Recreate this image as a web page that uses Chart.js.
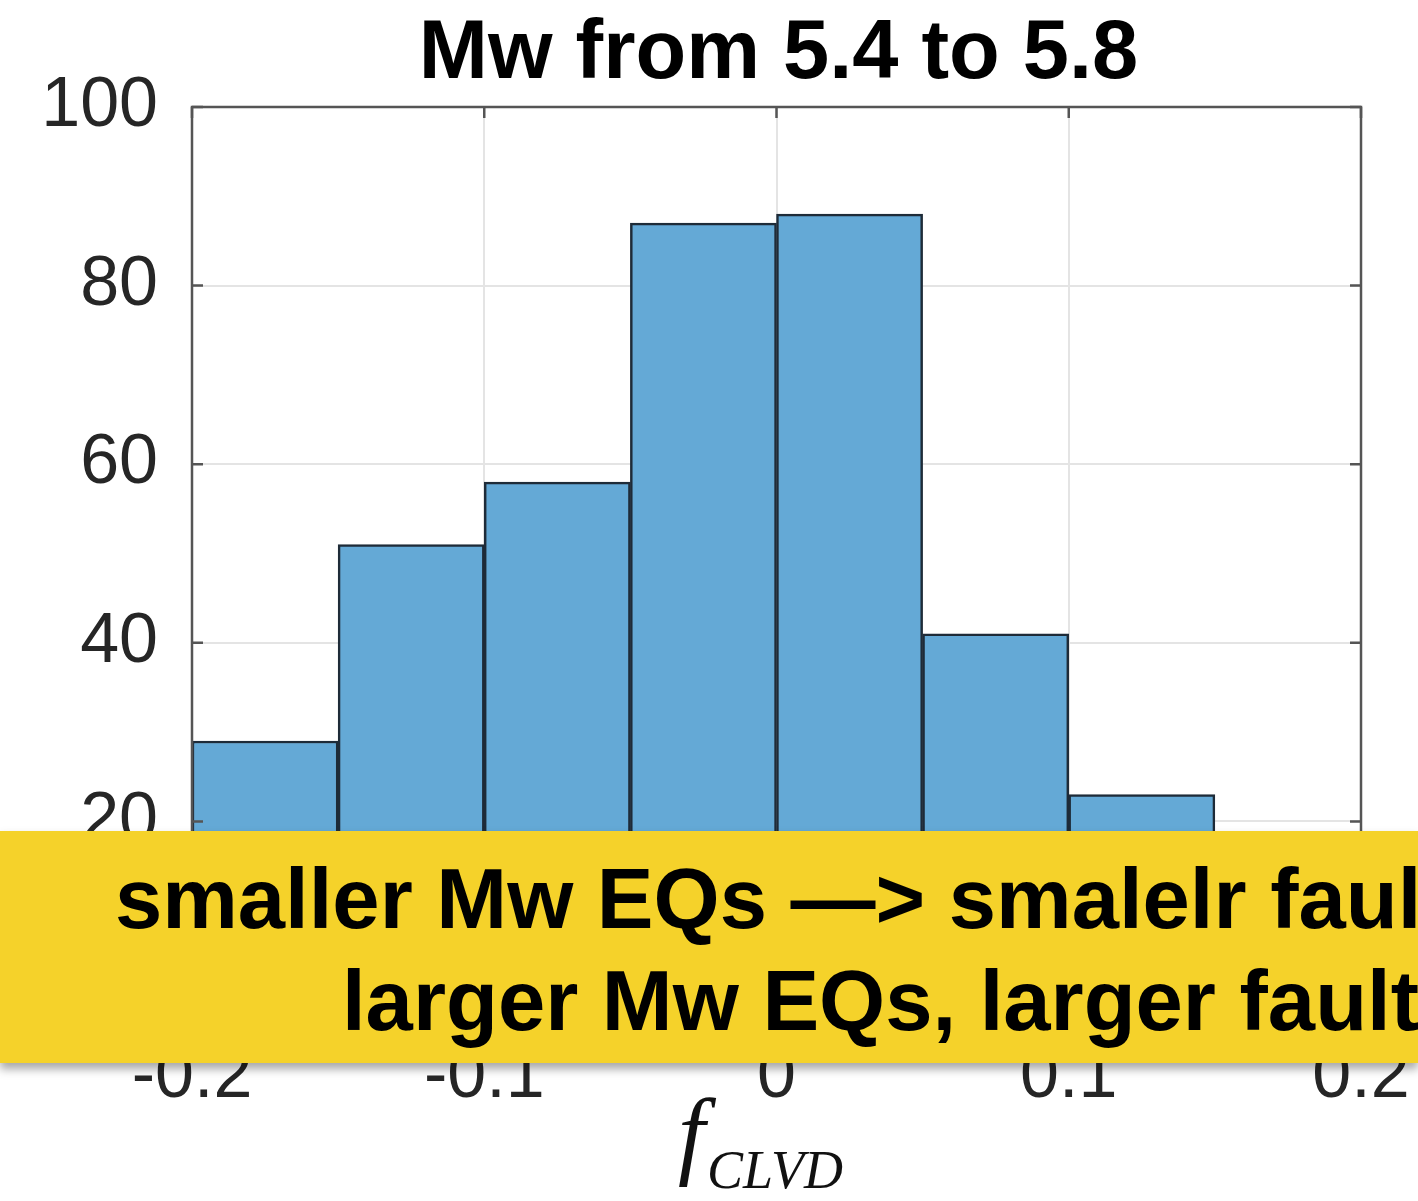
<!DOCTYPE html>
<html>
<head>
<meta charset="utf-8">
<script src="https://cdn.jsdelivr.net/npm/chart.js@4"></script>
<style>
  html, body { margin: 0; padding: 0; background: #fff; overflow: hidden; }
  #wrap { position: relative; width: 1418px; height: 1201px; overflow: hidden; }
  #chart { position: absolute; left: 0; top: 0; }
  #banner {
    position: absolute; left: 0; top: 831px; width: 1418px; height: 232px;
    background: rgb(245, 210, 42);
    box-shadow: 0 6px 9px rgba(0, 0, 0, 0.35);
    overflow: hidden;
  }
  .line {
    position: absolute; white-space: nowrap;
    font-family: "Liberation Sans", Arial, sans-serif; font-weight: bold;
    font-size: 85px; line-height: 85px; color: #000;
  }
</style>
</head>
<body>
<div id="wrap">
  <canvas id="chart" width="1418" height="1201"></canvas>
  <div id="banner">
    <div class="line" style="left:115px; top:25px;">smaller Mw EQs —&gt; smalelr faul</div>
    <div class="line" style="left:342px; top:127px;">larger Mw EQs, larger fault</div>
  </div>
</div>
<script>
// Histogram of f_CLVD, bins of width 0.05 between -0.2 and 0.2
const binCenters = [-0.175, -0.125, -0.075, -0.025, 0.025, 0.075, 0.125, 0.175];
const counts = [29, 51, 58, 87, 88, 41, 23, 7];
const xTicks = [-0.2, -0.1, 0, 0.1, 0.2];
const yTicks = [0, 20, 40, 60, 80, 100];
const titleText = 'Mw from 5.4 to 5.8';

const AXIS_COLOR = '#555555';
const TEXT_COLOR = '#262626';

// Axes box with inward tick marks, the title and the italic x-axis label
const boxPlugin = {
  id: 'boxAndLabel',
  afterDatasetsDraw(chart) {
    const { ctx, chartArea: a, scales } = chart;
    ctx.save();
    ctx.strokeStyle = AXIS_COLOR;
    ctx.lineWidth = 2.5;
    ctx.strokeRect(a.left, a.top, a.right - a.left, a.bottom - a.top);
    const tl = 11;
    ctx.beginPath();
    xTicks.forEach(v => {
      const px = scales.x.getPixelForValue(v);
      ctx.moveTo(px, a.bottom); ctx.lineTo(px, a.bottom - tl);
      ctx.moveTo(px, a.top); ctx.lineTo(px, a.top + tl);
    });
    yTicks.forEach(v => {
      const py = scales.y.getPixelForValue(v);
      ctx.moveTo(a.left, py); ctx.lineTo(a.left + tl, py);
      ctx.moveTo(a.right, py); ctx.lineTo(a.right - tl, py);
    });
    ctx.stroke();

    // title
    ctx.fillStyle = '#000';
    ctx.textAlign = 'center';
    ctx.textBaseline = 'alphabetic';
    ctx.font = 'bold 83px "Liberation Sans", Arial, sans-serif';
    ctx.fillText(titleText, (a.left + a.right) / 2 + 2, 78);

    // x-axis label: f with subscript CLVD
    ctx.fillStyle = '#111';
    ctx.textAlign = 'left';
    ctx.font = 'italic 97px "Liberation Serif", "Times New Roman", serif';
    ctx.fillText('f', 678, 1166);
    const fw = ctx.measureText('f').width;
    ctx.font = 'italic 54px "Liberation Serif", "Times New Roman", serif';
    ctx.fillText('CLVD', 678 + fw + 2, 1188);
    ctx.restore();
  }
};

new Chart(document.getElementById('chart'), {
  type: 'bar',
  data: {
    datasets: [{
      data: binCenters.map((c, i) => ({ x: c, y: counts[i] })),
      backgroundColor: 'rgb(100, 169, 214)',
      borderColor: '#1e2b38',
      borderWidth: 2.5,
      borderSkipped: 'start',
      barPercentage: 1,
      categoryPercentage: 1
    }]
  },
  plugins: [boxPlugin],
  options: {
    responsive: false,
    maintainAspectRatio: false,
    animation: false,
    devicePixelRatio: 1,
    layout: { padding: { left: 0, right: 57, top: 107, bottom: 0 } },
    plugins: {
      legend: { display: false },
      tooltip: { enabled: false },
      title: { display: false }
    },
    scales: {
      x: {
        type: 'linear',
        min: -0.2,
        max: 0.2,
        offset: false,
        afterBuildTicks(scale) { scale.ticks = xTicks.map(v => ({ value: v })); },
        afterFit(scale) {
          scale.height = 201;
          scale.paddingLeft = 0;
          scale.paddingRight = 0;
        },
        grid: { offset: false, color: '#e4e4e4', lineWidth: 2, drawTicks: false },
        border: { display: false },
        ticks: {
          padding: 36,
          color: TEXT_COLOR,
          font: { family: '"Liberation Sans", Arial, sans-serif', size: 70 },
          maxRotation: 0,
          autoSkip: false,
          callback: v => String(Math.round(v * 10) / 10)
        }
      },
      y: {
        min: 0,
        max: 100,
        afterBuildTicks(scale) { scale.ticks = yTicks.map(v => ({ value: v })); },
        afterFit(scale) {
          scale.width = 192;
          scale.paddingTop = 0;
          scale.paddingBottom = 0;
        },
        grid: { color: '#e4e4e4', lineWidth: 2, drawTicks: false },
        border: { display: false },
        ticks: {
          padding: 34,
          color: TEXT_COLOR,
          font: { family: '"Liberation Sans", Arial, sans-serif', size: 70 }
        }
      }
    }
  }
});
</script>
</body>
</html>
